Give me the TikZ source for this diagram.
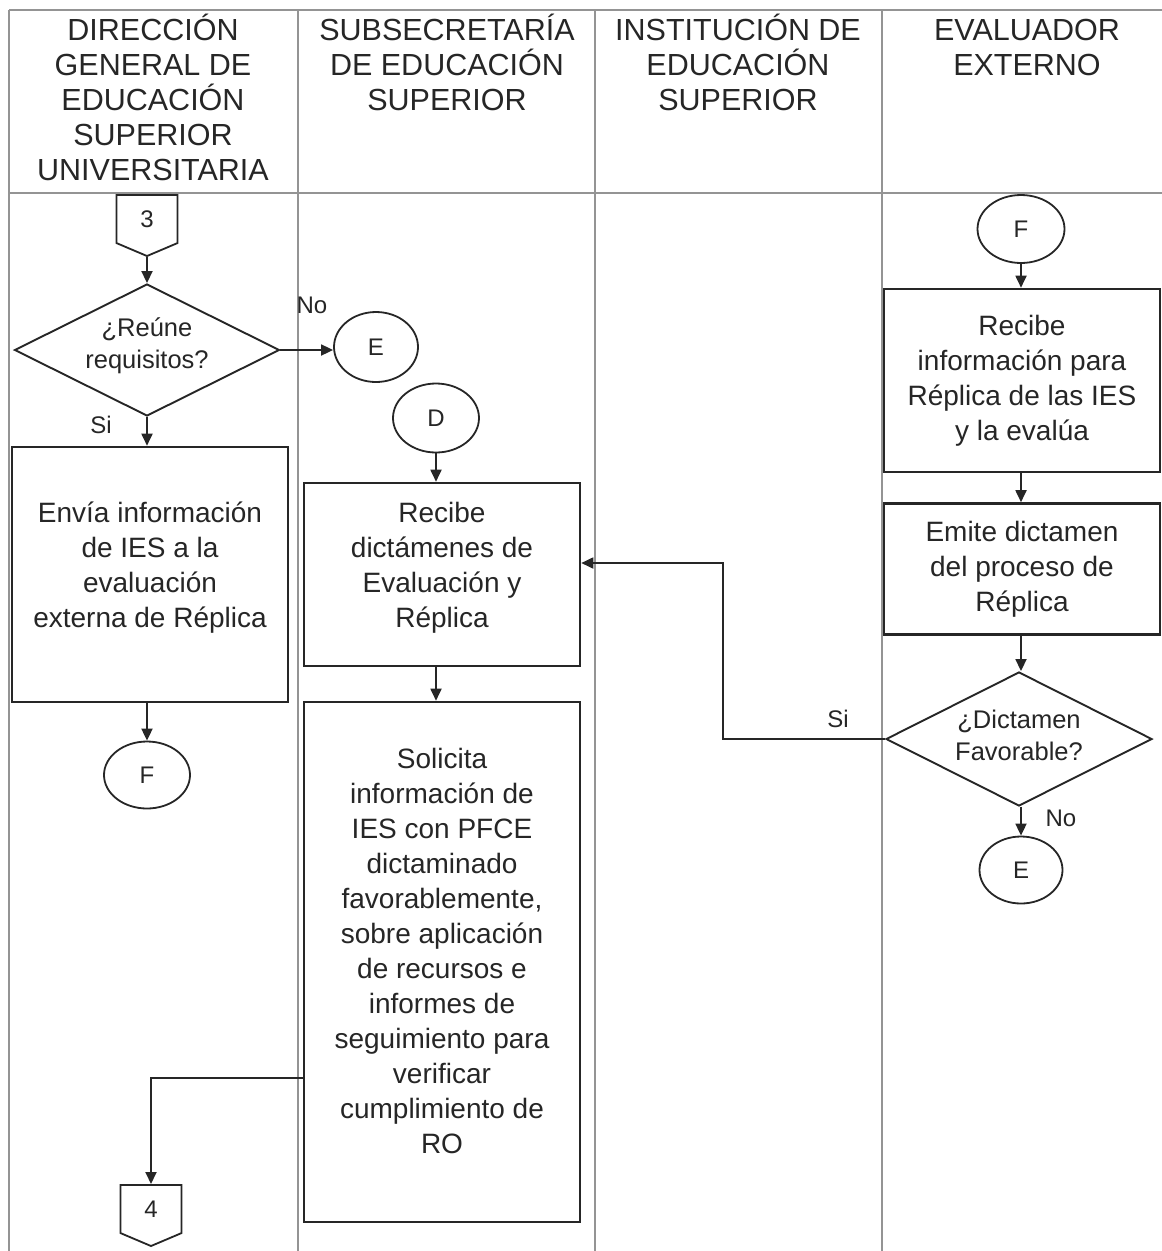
\documentclass[tikz,border=0pt]{standalone}
\usepackage{fontspec}
\setmainfont{Liberation Sans}
\usetikzlibrary{shapes.geometric,shapes.symbols,arrows.meta}
\newcommand\liftlines[2]{\raisebox{#1}[\height][\depth]{\begin{tabular}{@{}c@{}}#2\end{tabular}}}
\begin{document}
\begin{tikzpicture}[x=1pt,y=-1pt,
  lane/.style={draw=black!42, line width=1.3pt},
  hdr/.style={anchor=north, align=center, inner sep=0pt, font=\fontsize{30.5}{35}\selectfont, text=black!85},
  proc/.style={draw=black!85, line width=2.6pt, minimum width=276pt, inner sep=0pt, align=center, font=\fontsize{28}{35}\selectfont, text=black!85},
  dec/.style={diamond, draw=black!85, line width=1.9pt, aspect=2, inner sep=0pt, align=center, font=\fontsize{25.5}{32}\selectfont, text=black!85},
  conn/.style={ellipse, draw=black!85, line width=1.8pt, inner sep=0pt, font=\fontsize{24}{28}\selectfont, text=black!85},
  offp/.style={signal, signal to=south, signal from=nowhere, draw=black!85, line width=1.8pt, minimum width=61pt, minimum height=51pt, inner sep=0pt, signal pointer angle=134, font=\fontsize{24}{28}\selectfont, text=black!85},
  arr/.style={-{Triangle[length=12pt,width=11pt]}, line width=1.8pt, draw=black!85},
  lbl/.style={font=\fontsize{24}{28}\selectfont, inner sep=0pt, text=black!85}
]
\useasboundingbox (0,0) rectangle (1162,1251);
\fill[white] (0,0) rectangle (1162,1251);
% lanes
\draw[lane] (9,10) -- (1162,10);
\draw[lane] (9,193) -- (1162,193);
\draw[lane] (9,10) -- (9,1251);
\draw[lane] (298,10) -- (298,1251);
\draw[lane] (595,10) -- (595,1251);
\draw[lane] (882,10) -- (882,1251);
% headers
\node[hdr] (h1) at (153,14) {DIRECCIÓN\\GENERAL DE\\EDUCACIÓN\\SUPERIOR\\UNIVERSITARIA};
\node[hdr] (h2) at (447,14) {SUBSECRETARÍA\\DE EDUCACIÓN\\SUPERIOR};
\node[hdr] (h3) at (738,14) {INSTITUCIÓN DE\\EDUCACIÓN\\SUPERIOR};
\node[hdr] (h4) at (1027,14) {\vphantom{Ó}EVALUADOR\\EXTERNO};
% lane 1
\node[offp, anchor=north] (c3) at (147,194) {3};
\node[dec, minimum width=265pt, minimum height=132pt] (d1) at (147,350) {\liftlines{4pt}{¿Reúne\\requisitos?}};
\node[conn, minimum width=84pt, minimum height=70pt] (e1) at (376,347) {E};
\node[proc, minimum height=255pt] (a) at (150,574.5) {\liftlines{7pt}{Envía información\\de IES a la\\evaluación\\externa de Réplica}};
\node[conn, minimum width=86pt, minimum height=67pt] (f1) at (147,775) {F};
\node[offp, anchor=north] (c4) at (151,1184) {4};
% lane 2
\node[conn, minimum width=86pt, minimum height=69pt] (dd) at (436,418) {D};
\node[proc, minimum height=183pt] (rd) at (442,574.5) {\liftlines{7pt}{Recibe\\dictámenes de\\Evaluación y\\Réplica}};
\node[proc, minimum height=520pt] (sol) at (442,962) {\liftlines{8pt}{Solicita\\información de\\IES con PFCE\\dictaminado\\favorablemente,\\sobre aplicación\\de recursos e\\informes de\\seguimiento para\\verificar\\cumplimiento de\\RO}};
% lane 4
\node[conn, minimum width=87pt, minimum height=68pt] (f2) at (1021,229) {F};
\node[proc, minimum height=183pt] (ri) at (1022,380.5) {Recibe\\información para\\Réplica de las IES\\y la evalúa};
\node[proc, minimum height=131pt] (ed) at (1022,569) {Emite dictamen\\del proceso de\\Réplica};
\node[dec, minimum width=266pt, minimum height=134pt] (d2) at (1019,739) {\liftlines{1pt}{¿Dictamen\\Favorable?}};
\node[conn, minimum width=83pt, minimum height=67pt] (e2) at (1021,870) {E};
% labels
\node[lbl] (lno1) at (312,305) {No};
\node[lbl] (lsi1) at (101,425) {Si};
\node[lbl] (lsi2) at (838,719) {Si};
\node[lbl] (lno2) at (1061,818) {No};
% helper coordinates
\coordinate (siy) at (723,563);
\coordinate (c4y) at (0,1078);
% connectors
\draw[arr] (c3.south) -- (d1.north);
\draw[arr] (d1.east) -- (d1.east -| e1.west);
\draw[arr] (d1.south) -- (d1.south |- a.north);
\draw[arr] (f1.north |- a.south) -- (f1.north);
\draw[arr] (dd.south) -- (dd.south |- rd.north);
\draw[arr] (dd.south |- rd.south) -- (dd.south |- sol.north);
\draw[arr] (sol.west |- c4y) -| (c4.north);
\draw[arr] (f2.south) -- (f2.south |- ri.north);
\draw[arr] (f2.south |- ri.south) -- (f2.south |- ed.north);
\draw[arr] (f2.south |- ed.south) -- (f2.south |- d2.north);
\draw[arr] (d2.west) -| (siy) -- (siy -| rd.east);
\draw[arr] (f2.south |- d2.south) -- (e2.north);
\end{tikzpicture}
\end{document}
